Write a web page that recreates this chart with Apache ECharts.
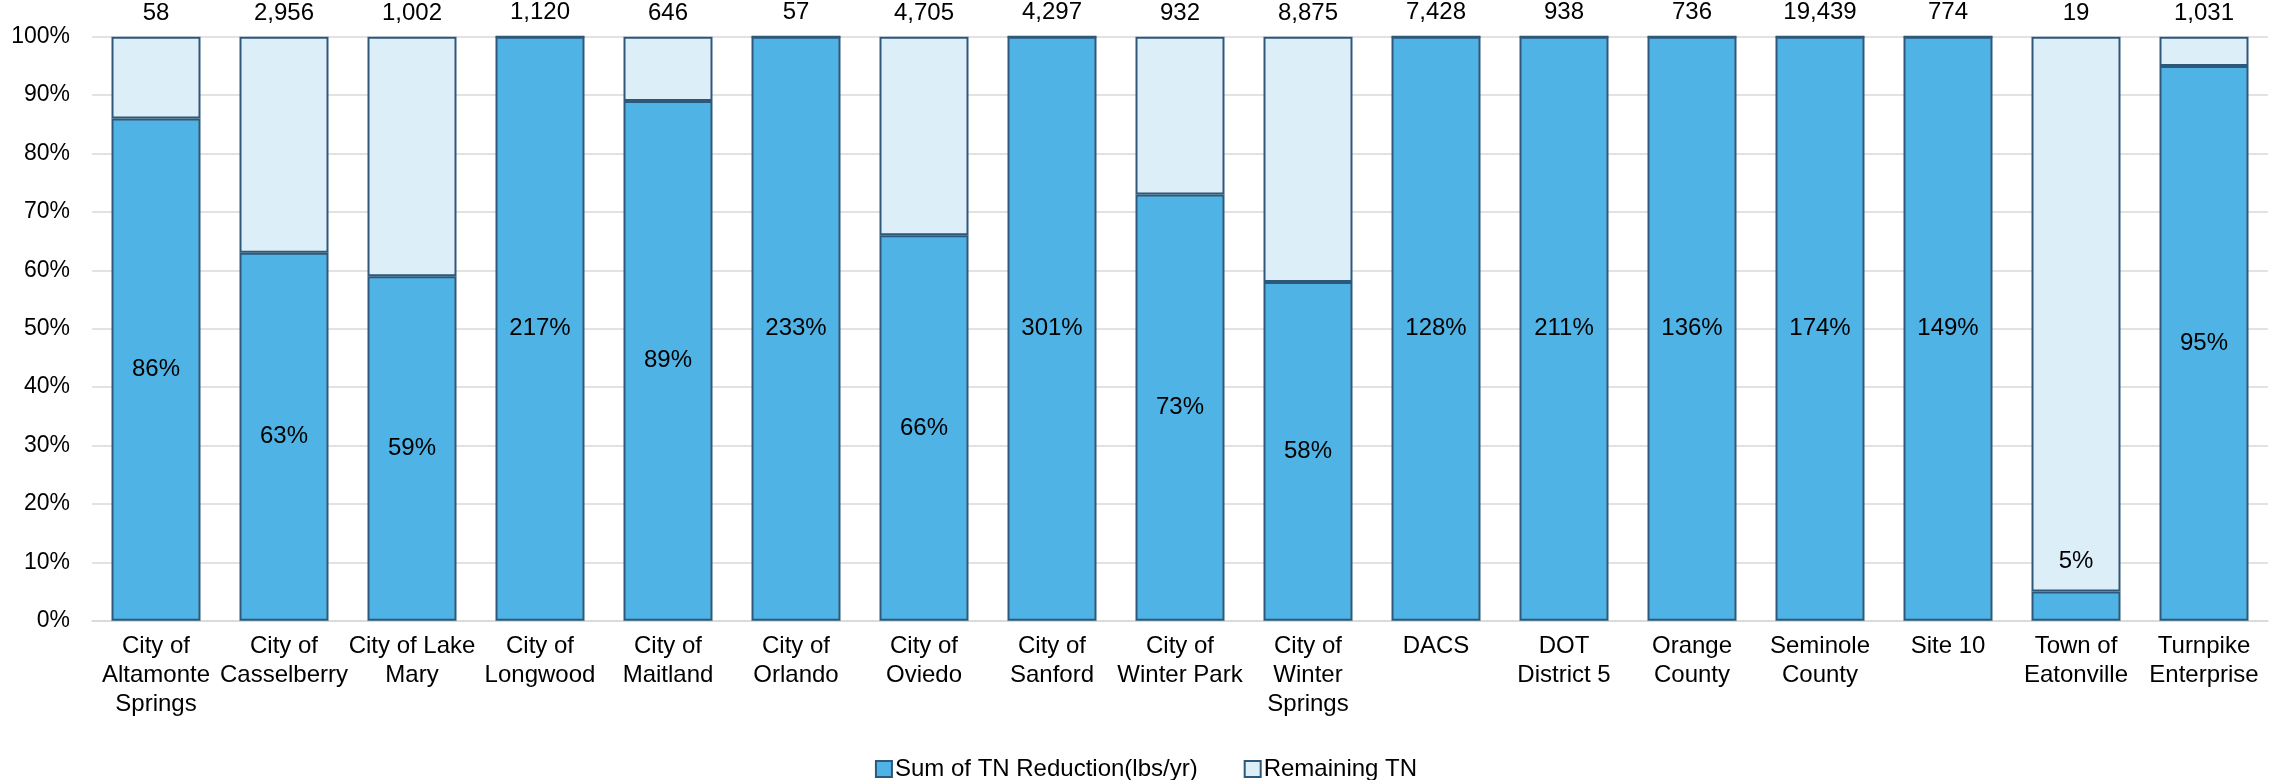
<!DOCTYPE html>
<html>
<head>
<meta charset="utf-8">
<script src="https://cdn.jsdelivr.net/npm/echarts@6/dist/echarts.min.js"></script>
<style>
html,body{margin:0;padding:0;background:#fff;}
#c{width:2292px;height:780px;}
</style>
</head>
<body>
<div id="c"></div>
<script>
// ---- data ----
const categories = [
  'City of\nAltamonte\nSprings', 'City of\nCasselberry', 'City of Lake\nMary', 'City of\nLongwood',
  'City of\nMaitland', 'City of\nOrlando', 'City of\nOviedo', 'City of\nSanford',
  'City of\nWinter Park', 'City of\nWinter\nSprings', 'DACS', 'DOT\nDistrict 5',
  'Orange\nCounty', 'Seminole\nCounty', 'Site 10', 'Town of\nEatonville', 'Turnpike\nEnterprise'
];
// percent of TN reduction achieved (label values)
const reductionPct = [86, 63, 59, 217, 89, 233, 66, 301, 73, 58, 128, 211, 136, 174, 149, 5, 95];
// totals shown above each bar
const totals = [58, 2956, 1002, 1120, 646, 57, 4705, 4297, 932, 8875, 7428, 938, 736, 19439, 774, 19, 1031];
const yTicks = [0, 10, 20, 30, 40, 50, 60, 70, 80, 90, 100];
const seriesNames = ['Sum of TN Reduction(lbs/yr)', 'Remaining TN'];

// ---- chart ----
const FONT = 'Liberation Sans, Arial, sans-serif';
const BLUE = '#50B3E5';
const LIGHT = '#DCEEF8';
const EDGE = '#2E5879';

const shown = reductionPct.map(v => Math.min(v, 100));
const remaining = shown.map(v => 100 - v);

const blueData = shown.map((v, i) => {
  const d = { value: v };
  if (v < 10) {
    d.label = { position: 'top', distance: 18 };
  }
  return d;
});

const chart = echarts.init(document.getElementById('c'), null, { renderer: 'canvas' });
chart.setOption({
  animation: false,
  textStyle: { fontFamily: FONT, color: '#000' },
  grid: { left: 92, right: 24, top: 36.7, bottom: 159.3, containLabel: false },
  legend: {
    top: 752,
    left: 'center',
    itemWidth: 16,
    itemHeight: 16,
    itemGap: 46,
    icon: 'rect',
    textStyle: { fontSize: 24, color: '#000', fontFamily: FONT, padding: [0, 0, 0, -2] },
    data: seriesNames
  },
  xAxis: {
    type: 'category',
    data: categories,
    axisTick: { show: false },
    axisLine: { lineStyle: { color: '#D9D9D9', width: 1.5 } },
    axisLabel: { fontSize: 24, color: '#000', lineHeight: 29, margin: 11, interval: 0, fontFamily: FONT }
  },
  yAxis: {
    type: 'value',
    min: yTicks[0],
    max: yTicks[yTicks.length - 1],
    interval: yTicks[1] - yTicks[0],
    axisLine: { show: false },
    axisTick: { show: false },
    splitLine: { lineStyle: { color: '#D9D9D9', width: 1.5 } },
    axisLabel: { fontSize: 23, color: '#000', margin: 22, formatter: v => v + '%', fontFamily: FONT }
  },
  series: [
    {
      name: seriesNames[0],
      type: 'bar',
      stack: 'a',
      barWidth: 89,
      data: blueData,
      itemStyle: { color: BLUE, borderColor: EDGE, borderWidth: 2 },
      label: {
        show: true,
        position: 'inside',
        fontSize: 24,
        color: '#000',
        fontFamily: FONT,
        formatter: p => reductionPct[p.dataIndex] + '%'
      }
    },
    {
      name: seriesNames[1],
      type: 'bar',
      stack: 'a',
      barWidth: 89,
      data: remaining,
      itemStyle: { color: LIGHT, borderColor: EDGE, borderWidth: 2 },
      label: {
        show: true,
        position: 'top',
        distance: 11,
        fontSize: 24,
        color: '#000',
        fontFamily: FONT,
        formatter: p => totals[p.dataIndex].toLocaleString('en-US')
      }
    }
  ]
});
</script>
</body>
</html>
